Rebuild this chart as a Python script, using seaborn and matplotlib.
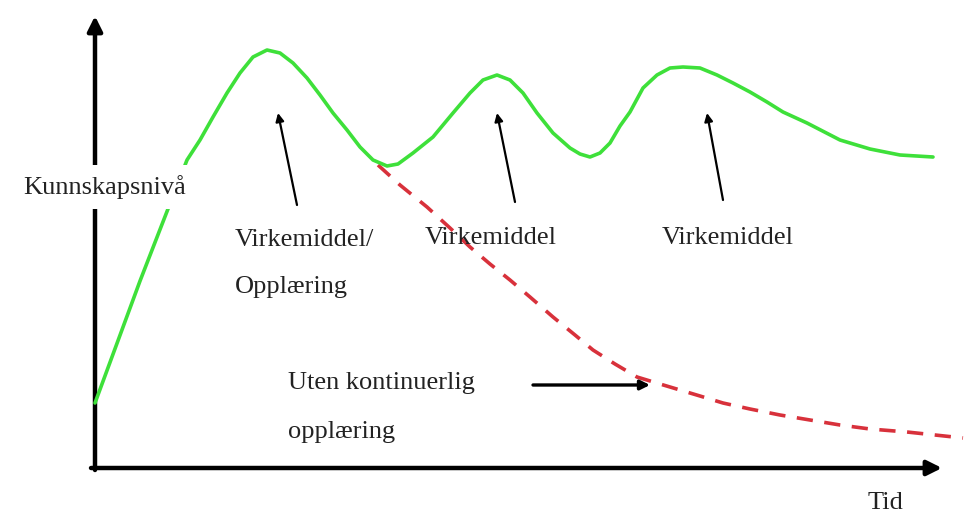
import matplotlib
matplotlib.use("Agg")
import matplotlib.pyplot as plt
import seaborn as sns
import pandas as pd

# ---- data (conceptual time / knowledge level) ----
H = 514
green_time = [95, 140, 187, 200, 213, 227, 240, 253, 267, 280, 293, 307, 320,
              333, 347, 360, 373, 387, 398, 413, 433, 453, 470, 483, 497,
              510, 523, 537, 553, 570, 580, 590, 600, 610, 620, 630, 643,
              657, 670, 683, 700, 717, 733, 750, 767, 783, 807, 840, 870,
              900, 933]
green_row = [403, 281, 160, 140, 117, 93, 73, 57, 50, 53, 63, 78, 95,
             113, 130, 147, 160, 166, 164, 153, 137, 113, 93, 80, 75,
             80, 93, 113, 133, 148, 154, 157, 153, 143, 126, 112, 88,
             75, 68, 67, 68, 75, 83, 92, 102, 112, 123, 140, 149,
             155, 157]
red_time = [378, 400, 427, 450, 470, 490, 510, 530, 553, 575, 593, 615, 637,
            660, 680, 700, 723, 750, 780, 810, 840, 870, 907, 935, 963]
red_row = [165, 185, 207, 228, 247, 264, 280, 297, 317, 335, 350, 364, 377,
           384, 390, 396, 403, 409, 415, 420, 425, 429, 432, 435, 438]

green_level = [H - r for r in green_row]
red_level = [H - r for r in red_row]

sns.set_style("white")
plt.rcParams['font.family'] = ['Liberation Serif', 'DejaVu Serif']

fig = plt.figure(figsize=(9.69, 5.14), dpi=100)
ax = fig.add_axes([0, 0, 1, 1])
ax.set_xlim(0, 969)
ax.set_ylim(0, H)
ax.axis('off')

gdf = pd.DataFrame({"t": green_time, "k": green_level})
rdf = pd.DataFrame({"t": red_time, "k": red_level})
sns.lineplot(data=gdf, x="t", y="k", sort=False, estimator=None, ax=ax,
             color="#3ee03a", lw=2.6, zorder=3,
             solid_capstyle='round', solid_joinstyle='round')
sns.lineplot(data=rdf, x="t", y="k", sort=False, estimator=None, ax=ax,
             color="#d8313b", lw=2.6, zorder=2, dashes=False)
ax.lines[-1].set_dashes([4.5, 3.2])

# axes arrows
ax.annotate('', xy=(95, H - 16), xytext=(95, H - 470),
            arrowprops=dict(arrowstyle='-|>', lw=3.2, color='black',
                            mutation_scale=22, shrinkA=0, shrinkB=0), zorder=1)
ax.annotate('', xy=(942, H - 468), xytext=(91, H - 468),
            arrowprops=dict(arrowstyle='-|>', lw=3.2, color='black',
                            mutation_scale=22, shrinkA=0, shrinkB=0), zorder=1)

tc = '#222222'
fs = 19
ax.text(23, H - 187, "Kunnskapsnivå", fontsize=fs, color=tc, va='center', ha='left',
        zorder=6, bbox=dict(boxstyle='square,pad=0.38', fc='white', ec='none'))

# annotation arrows and labels
ax.annotate('', xy=(278, H - 113), xytext=(297, H - 205),
            arrowprops=dict(arrowstyle='-|>', lw=1.6, color='black',
                            mutation_scale=12, shrinkA=0, shrinkB=0))
ax.annotate('', xy=(497, H - 113), xytext=(515, H - 202),
            arrowprops=dict(arrowstyle='-|>', lw=1.6, color='black',
                            mutation_scale=12, shrinkA=0, shrinkB=0))
ax.annotate('', xy=(707, H - 113), xytext=(723, H - 200),
            arrowprops=dict(arrowstyle='-|>', lw=1.6, color='black',
                            mutation_scale=12, shrinkA=0, shrinkB=0))
ax.annotate('', xy=(650, H - 385), xytext=(533, H - 385),
            arrowprops=dict(arrowstyle='-|>', lw=2.4, color='black',
                            mutation_scale=14, shrinkA=0, shrinkB=0))

ax.text(235, H - 240, "Virkemiddel/", fontsize=fs, color=tc, va='center', ha='left')
ax.text(235, H - 287, "Opplæring", fontsize=fs, color=tc, va='center', ha='left')
ax.text(425, H - 238, "Virkemiddel", fontsize=fs, color=tc, va='center', ha='left')
ax.text(662, H - 238, "Virkemiddel", fontsize=fs, color=tc, va='center', ha='left')
ax.text(288, H - 383, "Uten kontinuerlig", fontsize=fs, color=tc, va='center', ha='left')
ax.text(288, H - 432, "opplæring", fontsize=fs, color=tc, va='center', ha='left')
ax.text(868, H - 503, "Tid", fontsize=fs, color=tc, va='center', ha='left')

fig.savefig("out.png", dpi=100, facecolor='white')
